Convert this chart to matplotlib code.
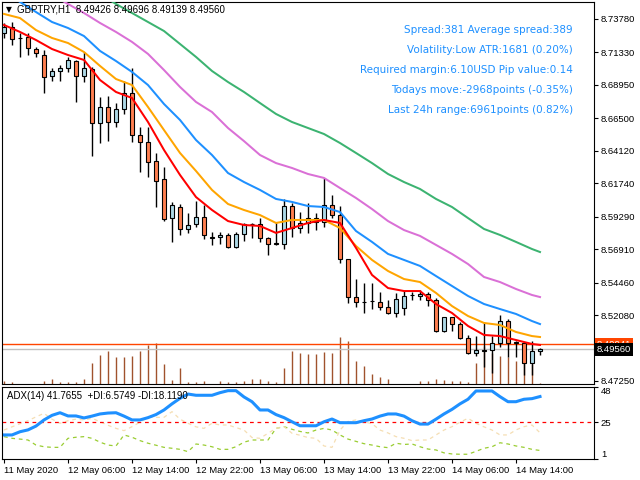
import numpy as np
import pandas as pd
import matplotlib
matplotlib.use('Agg')
import matplotlib.pyplot as plt

# GBPTRY H1 candles
opens = [8.7278, 8.7317, 8.7242, 8.7244, 8.7156, 8.7112, 8.6960, 8.6995, 8.7017, 8.7072,
         8.6962, 8.7009, 8.6614, 8.6735, 8.6621, 8.6716, 8.6833, 8.6526, 8.6474, 8.6335,
         8.6203, 8.5917, 8.6002, 8.5837, 8.5873, 8.5925, 8.5779, 8.5778, 8.5797, 8.5705,
         8.5800, 8.5875, 8.5873, 8.5771, 8.5735, 8.5727, 8.6005, 8.5844, 8.5881, 8.5917,
         8.5888, 8.6012, 8.5939, 8.5617, 8.5343, 8.5307, 8.5312, 8.5306, 8.5265, 8.5221,
         8.5258, 8.5356, 8.5350, 8.5365, 8.5316, 8.5091, 8.5192, 8.5140, 8.5040, 8.4928,
         8.4951, 8.4950, 8.5005, 8.5162, 8.5007, 8.5005, 8.4859, 8.49426]
highs = [8.7349, 8.7358, 8.7275, 8.7275, 8.7175, 8.7151, 8.7017, 8.7041, 8.7102, 8.7078,
         8.7138, 8.7028, 8.6804, 8.6814, 8.6760, 8.6924, 8.7017, 8.6589, 8.6584, 8.6394,
         8.6295, 8.6033, 8.6022, 8.5954, 8.6046, 8.6015, 8.5817, 8.5817, 8.5807, 8.5817,
         8.5881, 8.5885, 8.5917, 8.5782, 8.5888, 8.6056, 8.6027, 8.5966, 8.6027, 8.5954,
         8.6210, 8.6088, 8.6007, 8.5619, 8.5470, 8.5441, 8.5441, 8.5379, 8.5318, 8.5367,
         8.5386, 8.5379, 8.5392, 8.5375, 8.5333, 8.5194, 8.5194, 8.5155, 8.5062, 8.5057,
         8.5159, 8.5057, 8.5208, 8.5179, 8.5018, 8.5005, 8.5016, 8.49696]
lows = [8.7239, 8.7187, 8.7102, 8.7114, 8.7097, 8.6833, 8.6926, 8.6926, 8.6992, 8.6772,
        8.6918, 8.6376, 8.6471, 8.6486, 8.6589, 8.6682, 8.6479, 8.6259, 8.6222, 8.6002,
        8.5901, 8.5740, 8.5793, 8.5807, 8.5851, 8.5763, 8.5719, 8.5729, 8.5697, 8.5697,
        8.5753, 8.5771, 8.5746, 8.5646, 8.5719, 8.5690, 8.5782, 8.5807, 8.5807, 8.5831,
        8.5851, 8.5917, 8.5590, 8.5294, 8.5269, 8.5221, 8.5250, 8.5245, 8.5219, 8.5196,
        8.5208, 8.5318, 8.5318, 8.5274, 8.5084, 8.5087, 8.5093, 8.5035, 8.4923, 8.4908,
        8.4829, 8.4781, 8.4976, 8.4903, 8.4903, 8.4769, 8.4769, 8.49139]
closes = [8.7317, 8.7229, 8.7240, 8.7163, 8.7127, 8.6955, 8.6995, 8.7017, 8.7078, 8.6962,
          8.7017, 8.6614, 8.6735, 8.6621, 8.6716, 8.6833, 8.6526, 8.6474, 8.6332, 8.6193,
          8.5914, 8.6012, 8.5837, 8.5866, 8.5925, 8.5793, 8.5776, 8.5797, 8.5705, 8.5802,
          8.5873, 8.5874, 8.5771, 8.5727, 8.5732, 8.6005, 8.5846, 8.5881, 8.5917, 8.5888,
          8.6012, 8.5939, 8.5617, 8.5343, 8.5304, 8.5304, 8.5310, 8.5265, 8.5221, 8.5323,
          8.5350, 8.5354, 8.5365, 8.5316, 8.5091, 8.5192, 8.5142, 8.5040, 8.4928, 8.4950,
          8.4948, 8.5005, 8.5162, 8.5005, 8.5004, 8.4859, 8.4942, 8.49560]
volume = [30, 20, 0, 0, 0, 30, 50, 20, 20, 20,
          50, 210, 290, 330, 270, 270, 280, 330, 390, 410,
          200, 40, 160, 20, 20, 30, 0, 30, 20, 20,
          30, 50, 50, 30, 20, 160, 330, 310, 300, 300,
          320, 310, 470, 430, 230, 180, 100, 70, 50, 0,
          0, 0, 30, 30, 50, 40, 30, 30, 20, 210,
          380, 310, 280, 270, 230, 220, 200, 10]

# moving averages, read every second bar
ma_idx = list(range(0, 67, 2)) + [67]
ma_red = [8.7334, 8.7283, 8.7224, 8.7158, 8.7114, 8.7078, 8.6931, 8.6843, 8.6799, 8.6623,
          8.6418, 8.6235, 8.6073, 8.5978, 8.5897, 8.5868, 8.5861, 8.5810, 8.5846, 8.5883,
          8.5905, 8.5883, 8.5700, 8.5502, 8.5406, 8.5384, 8.5384, 8.5289, 8.5223, 8.5128,
          8.5062, 8.5054, 8.5025, 8.4996, 8.4989]
ma_orange = [8.7415, 8.7385, 8.7297, 8.7239, 8.7202, 8.7136, 8.7034, 8.6938, 8.6894, 8.6733,
             8.6564, 8.6396, 8.6264, 8.6125, 8.6022, 8.5978, 8.5941, 8.5883, 8.5905, 8.5905,
             8.5905, 8.5846, 8.5714, 8.5612, 8.5531, 8.5472, 8.5450, 8.5370, 8.5274, 8.5201,
             8.5150, 8.5135, 8.5084, 8.5054, 8.5047]
ma_blue = [8.7576, 8.7503, 8.7429, 8.7356, 8.7312, 8.7253, 8.7144, 8.7070, 8.6990, 8.6894,
           8.6755, 8.6638, 8.6491, 8.6381, 8.6249, 8.6183, 8.6125, 8.6059, 8.6037, 8.6007,
           8.6000, 8.5963, 8.5824, 8.5744, 8.5656, 8.5612, 8.5568, 8.5494, 8.5421, 8.5348,
           8.5289, 8.5252, 8.5216, 8.5164, 8.5142]
# violet starts at bar 6, green at bar 12 (earlier part is above the window)
ma_violet = [8.7554, 8.7488, 8.7422, 8.7349, 8.7283, 8.7210, 8.7122, 8.7004, 8.6880, 8.6770,
             8.6696, 8.6579, 8.6483, 8.6381, 8.6322, 8.6286, 8.6242, 8.6213, 8.6139, 8.6066,
             8.5985, 8.5897, 8.5831, 8.5788, 8.5722, 8.5656, 8.5582, 8.5487, 8.5450, 8.5399,
             8.5355, 8.5340]
ma_green = [8.7561, 8.7488, 8.7422, 8.7356, 8.7290, 8.7195, 8.7100, 8.6997, 8.6916, 8.6843,
            8.6762, 8.6682, 8.6623, 8.6579, 8.6535, 8.6469, 8.6396, 8.6322, 8.6242, 8.6183,
            8.6132, 8.6059, 8.6000, 8.5919, 8.5839, 8.5795, 8.5744, 8.5692, 8.5670]

# ADX(14)
adx = [16.7, 16.7, 18.8, 20.0, 22.5, 26.5, 29.5, 31.2, 29.1, 29.1,
       27.8, 29.0, 30.4, 31.0, 31.2, 29.0, 26.5, 26.5, 28.0, 30.0,
       33.0, 37.0, 40.6, 43.4, 42.6, 42.6, 42.6, 44.3, 45.6, 45.6,
       41.5, 38.4, 33.0, 33.0, 30.0, 28.0, 25.3, 22.7, 22.7, 22.7,
       25.3, 27.1, 24.7, 24.7, 24.7, 26.0, 27.1, 29.0, 30.4, 30.4,
       29.0, 26.0, 23.8, 23.8, 27.0, 30.4, 33.4, 37.0, 40.0, 45.4,
       45.4, 45.4, 41.7, 38.4, 38.4, 40.0, 40.4, 41.7655]
plus_di = [15.6, 14.5, 14.0, 13.4, 10.1, 9.0, 8.6, 8.6, 14.5, 15.2,
           15.6, 14.5, 12.0, 10.1, 9.5, 16.7, 15.2, 13.0, 11.3, 10.0,
           8.6, 8.0, 7.3, 5.8, 10.8, 10.1, 9.0, 7.3, 7.3, 9.0,
           12.0, 13.4, 13.4, 13.4, 21.0, 22.1, 20.4, 19.0, 18.0, 19.9,
           21.0, 19.9, 16.7, 14.0, 12.5, 11.0, 10.1, 9.0, 8.4, 11.3,
           10.5, 10.8, 9.0, 7.5, 6.9, 5.0, 4.3, 4.1, 4.1, 6.0,
           8.0, 9.0, 11.6, 10.8, 9.5, 8.6, 7.3, 6.5749]
minus_di = [19.9, 22.0, 24.0, 26.0, 28.5, 30.8, 27.0, 24.3, 26.0, 27.0,
            26.5, 27.6, 25.3, 23.0, 21.0, 19.5, 22.1, 25.0, 28.2, 28.2,
            28.2, 31.9, 27.0, 24.3, 22.0, 21.0, 24.3, 23.2, 23.2, 21.5,
            19.9, 15.0, 14.5, 17.8, 21.0, 22.1, 17.8, 16.5, 15.0, 14.5,
            9.5, 8.6, 19.9, 25.5, 26.5, 25.3, 24.0, 19.9, 18.0, 15.6,
            14.5, 13.0, 13.4, 13.4, 16.7, 19.9, 22.1, 25.0, 27.6, 24.3,
            22.0, 19.9, 16.7, 16.7, 20.0, 22.1, 23.2, 18.119]

price_ticks = [8.73780, 8.71330, 8.68950, 8.66500, 8.64120, 8.61740, 8.59290,
               8.56910, 8.54460, 8.52080, 8.47250]
bid = 8.49560
ask = 8.49941

info_lines = ['Spread:381 Average spread:389',
              'Volatility:Low ATR:1681 (0.20%)',
              'Required margin:6.10USD Pip value:0.14',
              'Todays move:-2968points (-0.35%)',
              'Last 24h range:6961points (0.82%)']

narrow = 'Liberation Sans'

times = pd.date_range('2020-05-11 22:00', periods=len(closes), freq='h')
x = np.arange(len(closes))

fig = plt.figure(figsize=(6.4, 4.8), dpi=100)
ax = fig.add_axes([2/640, 96/480, 592/640, 382/480])
ax2 = fig.add_axes([2/640, 21/480, 592/640, 72/480])

# volume bars at the bottom of the price window
ax.vlines(x, 0, np.array(volume) / 3820, transform=ax.get_xaxis_transform(),
          color='#A0522D', lw=1, zorder=1)

# candles
o = np.array(opens)
c = np.array(closes)
up = c >= o
ax.vlines(x, lows, highs, color='black', lw=1, zorder=3)
ax.bar(x, np.maximum(np.abs(c - o), 1e-5), bottom=np.minimum(o, c), width=0.62,
       color=np.where(up, '#ADD8E6', '#FF7F50'), edgecolor='black', linewidth=0.8, zorder=4)

# moving averages
ax.plot(ma_idx[-len(ma_green):], ma_green, color='#3CB371', lw=1.45, zorder=5)
ax.plot(ma_idx[-len(ma_violet):], ma_violet, color='#DA70D6', lw=1.45, zorder=5)
ax.plot(ma_idx, ma_blue, color='#1E90FF', lw=1.45, zorder=5)
ax.plot(ma_idx, ma_orange, color='#FFA500', lw=1.45, zorder=5)
ax.plot(ma_idx, ma_red, color='#FF0000', lw=1.45, zorder=6)

ax.axhline(ask, color='#FF4500', lw=1, zorder=2)
ax.axhline(bid, color='#C0C0C0', lw=1, zorder=2)

ax.set_xlim(-0.25, 73.75)
ax.set_ylim(8.47026, 8.75026)
ax.set_xticks([])
ax.yaxis.tick_right()
ax.set_yticks(price_ticks)
ax.set_yticklabels(['%.5f' % p for p in price_ticks], family=narrow)
ax.tick_params(axis='y', labelsize=6.8, length=3, width=0.8, pad=2, colors='black')

ytr = ax.get_yaxis_transform()
ax.text(1.005, ask, '%.5f' % ask, transform=ytr, fontsize=6.8, family=narrow, color='white',
        va='center', ha='left', bbox=dict(boxstyle='square,pad=0.2', fc='#FF4500', ec='none'),
        clip_on=False, zorder=10)
ax.text(1.005, bid, '%.5f' % bid, transform=ytr, fontsize=6.8, family=narrow, color='white',
        va='center', ha='left', bbox=dict(boxstyle='square,pad=0.2', fc='black', ec='none'),
        clip_on=False, zorder=11)

# ADX window
ax2.plot(x, plus_di, color='yellowgreen', lw=0.9, ls=(0, (3, 3)))
ax2.plot(x, minus_di, color='wheat', lw=0.9, ls=(0, (3, 3)))
ax2.axhline(25, color='red', lw=0.9, ls=(0, (3, 3)))
ax2.plot(x, adx, color='#1E90FF', lw=2.2)
ax2.set_xlim(-0.25, 73.75)
ax2.set_ylim(1, 48)
ax2.yaxis.tick_right()
ax2.set_yticks([1, 25, 48])
ax2.set_yticklabels(['1', '25', '48'], family=narrow)
ax2.tick_params(axis='y', labelsize=6.8, length=3, width=0.8, pad=2)
ylabs = ax2.get_yticklabels()
ylabs[0].set_va('bottom')
ylabs[2].set_va('top')

tick_pos = list(range(0, len(closes), 8))
tick_lab = ['11 May 2020' if i == 0 else times[i].strftime('%d %b %H:%M') for i in tick_pos]
ax2.set_xticks(tick_pos)
ax2.set_xticklabels(tick_lab, family=narrow)
ax2.tick_params(axis='x', labelsize=6.8, length=3, width=0.8, pad=2)
for lab in ax2.get_xticklabels():
    lab.set_ha('left')

for a in (ax, ax2):
    for s in a.spines.values():
        s.set_color('black')
        s.set_linewidth(0.8)

fig.text(6/640, 1 - 10/480, '▼', fontsize=5.5, va='center', ha='left')
fig.text(17/640, 1 - 10/480, 'GBPTRY,H1  8.49426 8.49696 8.49139 8.49560', fontsize=7,
         family=narrow, va='center', ha='left')
fig.text(7/640, 1 - 396/480, 'ADX(14) 41.7655  +DI:6.5749 -DI:18.1190', fontsize=7,
         family=narrow, va='center', ha='left')
for k, line in enumerate(info_lines):
    fig.text(573/640, 1 - (30 + 20*k)/480, line, fontsize=7.5, color='#1E90FF', va='center', ha='right')

fig.savefig('out.png', dpi=100)
